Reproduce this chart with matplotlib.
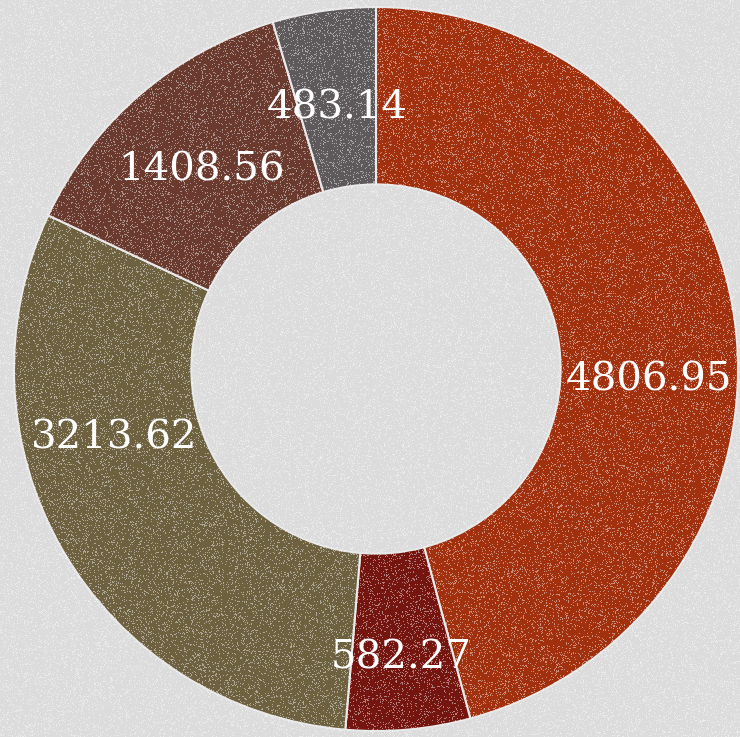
import numpy as np
import matplotlib.pyplot as plt

values = [4806.95, 582.27, 3213.62, 1408.56, 483.14]
labels = ["4806.95", "582.27", "3213.62", "1408.56", "483.14"]
colors = ["#a0300e", "#751510", "#6e6140", "#6a3a2e", "#5e595b"]

# small nudges for the label placement (angle in deg, radius)
nudge = [-9, 0, -16, 0, 0]
r_lab = [0.755, 0.79, 0.745, 0.74, 0.74]

W, H = 740, 737
cx, cy, R = 376, 369, 362
ext = [-cx / R, (W - cx) / R, -(H - cy) / R, cy / R]

fig = plt.figure(figsize=(W / 100, H / 100), dpi=100)
fig.patch.set_facecolor("#dcdcdc")
ax = fig.add_axes([0, 0, 1, 1])
ax.set_facecolor("#dcdcdc")

wedges, _ = ax.pie(values, colors=colors, startangle=90, counterclock=False,
                   radius=1, wedgeprops=dict(width=0.49, edgecolor="#e8e8e8",
                                             linewidth=1.5))

for w, lab, dn, rl in zip(wedges, labels, nudge, r_lab):
    ang = np.deg2rad((w.theta1 + w.theta2) / 2 + dn)
    ax.text(rl * np.cos(ang), rl * np.sin(ang), lab,
            ha="center", va="center_baseline", color="white",
            fontsize=29, family="DejaVu Serif", zorder=3)

# grunge speckle overlay (decoration only)
rng = np.random.default_rng(3)
noise = rng.random((H, W))
tex = np.zeros((H, W, 4))
tex[..., :3] = 1.0
tex[..., 3] = np.where(noise > 0.86, 0.45, 0.0)
ax.imshow(tex, extent=ext, zorder=1, interpolation="nearest", aspect="auto")

ax.set_aspect("auto")
ax.set_xlim(ext[0], ext[1])
ax.set_ylim(ext[2], ext[3])
ax.axis("off")

fig.savefig("out.png", dpi=100, facecolor=fig.get_facecolor())
